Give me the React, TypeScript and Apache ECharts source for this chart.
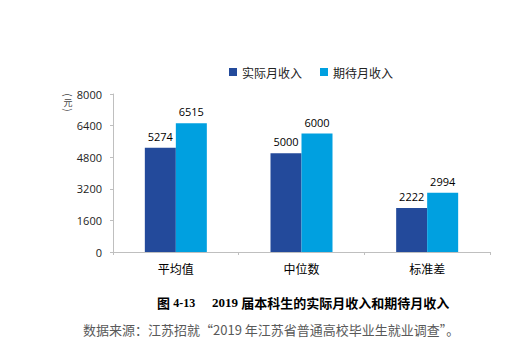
import React, { useEffect, useRef } from "react";
import * as echarts from "echarts";

const categories = ["平均值", "中位数", "标准差"];
const actualIncome = [5274, 5000, 2222];
const expectedIncome = [6515, 6000, 2994];
const seriesNames = ["实际月收入", "期待月收入"];
const yTicks = { min: 0, max: 8000, interval: 1600 };
const figureNo = "4-13";
const captionYear = "2019";
const captionText = "届本科生的实际月收入和期待月收入";
const source = "数据来源：江苏招就“2019 年江苏省普通高校毕业生就业调查”。";

export default function App() {
  const ref = useRef<HTMLDivElement>(null);
  useEffect(() => {
    if (!ref.current) return;
    const chart = echarts.init(ref.current, undefined, { renderer: "svg" });
    const labelStyle = { show: true, position: "top" as const, color: "#000", fontSize: 11, fontFamily: "Open Sans, sans-serif", distance: 6 };
    const serif = "Liberation Serif, serif";
    chart.setOption({
      animation: false,
      backgroundColor: "#fff",
      legend: {
        left: 224,
        top: 61,
        itemWidth: 8,
        itemHeight: 8,
        itemGap: 18,
        icon: "rect",
        textStyle: { fontSize: 12, color: "#222", fontFamily: "Noto Sans CJK SC" },
        data: seriesNames,
      },
      grid: { left: 113, right: 25, top: 94, bottom: 101 },
      xAxis: {
        type: "category",
        data: categories,
        axisLine: { lineStyle: { color: "#bfbfbf" } },
        axisTick: { show: true, length: 3, lineStyle: { color: "#bfbfbf" } },
        axisLabel: { color: "#000", fontSize: 12, margin: 10, fontFamily: "Noto Sans CJK SC" },
      },
      yAxis: {
        type: "value",
        min: yTicks.min,
        max: yTicks.max,
        interval: yTicks.interval,
        splitLine: { show: false },
        axisLine: { show: true, lineStyle: { color: "#bfbfbf" } },
        axisTick: { show: true, length: 3, lineStyle: { color: "#bfbfbf" } },
        axisLabel: { color: "#222", fontSize: 11, margin: 11, fontFamily: "Open Sans, sans-serif", formatter: (v: number) => String(v) },
      },
      series: [
        {
          name: seriesNames[0],
          type: "bar",
          data: actualIncome,
          barWidth: 31,
          barGap: "0%",
          itemStyle: { color: "#234a9b" },
          label: labelStyle,
        },
        {
          name: seriesNames[1],
          type: "bar",
          data: expectedIncome,
          barWidth: 31,
          barGap: "0%",
          itemStyle: { color: "#00a0e0" },
          label: labelStyle,
        },
      ],
      graphic: [
        {
          type: "text",
          x: 68,
          y: 95,
          rotation: -Math.PI / 2,
          style: { text: "(", fontSize: 10, fill: "#444", fontFamily: "Noto Sans CJK SC", align: "center", verticalAlign: "middle" },
        },
        {
          type: "text",
          x: 68,
          y: 102.5,
          style: { text: "元", fontSize: 9, fill: "#444", fontFamily: "Noto Sans CJK SC", align: "center", verticalAlign: "middle" },
        },
        {
          type: "text",
          x: 68,
          y: 110,
          rotation: -Math.PI / 2,
          style: { text: ")", fontSize: 10, fill: "#444", fontFamily: "Noto Sans CJK SC", align: "center", verticalAlign: "middle" },
        },
        {
          type: "text",
          left: 157,
          top: 296,
          style: {
            text: "{c|图} {n|" + figureNo + "}",
            rich: {
              c: { fontSize: 13, fontWeight: "bold", fill: "#000", fontFamily: "Noto Sans CJK SC" },
              n: { fontSize: 12, fontWeight: "bold", fill: "#000", fontFamily: serif },
            },
          },
        },
        {
          type: "text",
          left: 212,
          top: 296,
          style: {
            text: "{n|" + captionYear + "} {c|" + captionText + "}",
            rich: {
              c: { fontSize: 13, fontWeight: "bold", fill: "#000", fontFamily: "Noto Sans CJK SC" },
              n: { fontSize: 13, fontWeight: "bold", fill: "#000", fontFamily: serif },
            },
          },
        },
        {
          type: "text",
          left: 83,
          top: 323,
          style: { text: source, fontSize: 13, fill: "#595959", fontFamily: "Noto Sans CJK SC" },
        },
      ],
    });
    return () => chart.dispose();
  }, []);
  return <div ref={ref} style={{ width: 515, height: 353, position: "absolute", left: 0, top: 0 }} />;
}
